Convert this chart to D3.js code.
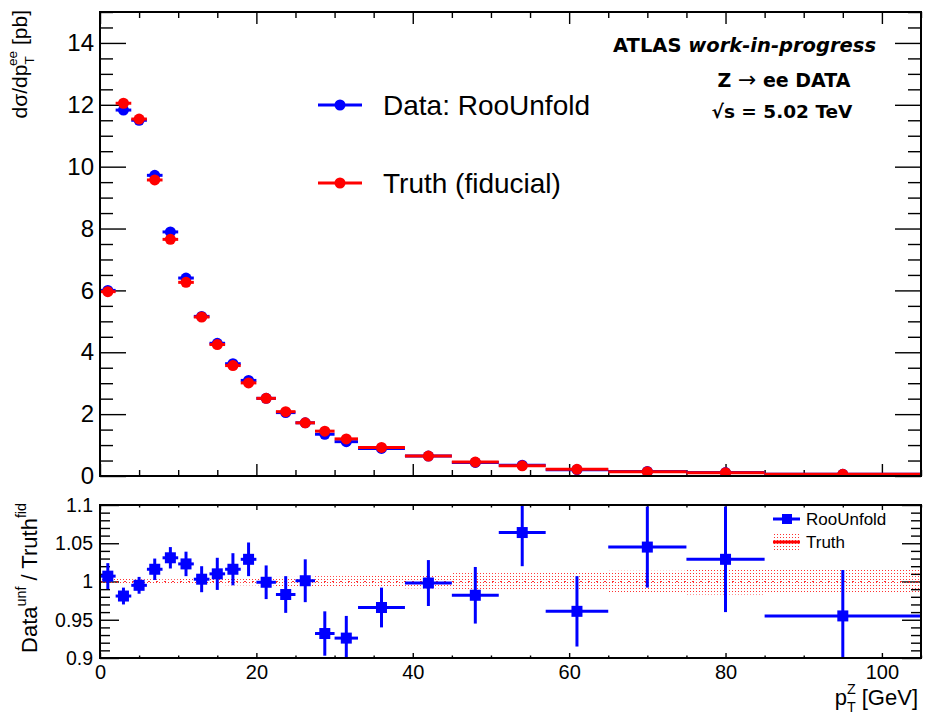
<!DOCTYPE html>
<html>
<head>
<meta charset="utf-8">
<script src="https://cdn.jsdelivr.net/npm/d3@7"></script>
<style>
  html, body { margin: 0; padding: 0; background: #fff; }
  svg { display: block; font-family: "Liberation Sans", Arial, Helvetica, sans-serif; }
</style>
</head>
<body>
<svg id="chart" width="925" height="715"></svg>
<script>
// Bin edges of the Z pT distribution [GeV]
const binEdges = [0, 2, 4, 6, 8, 10, 12, 14, 16, 18, 20, 22.5, 25, 27.5, 30, 33, 39, 45, 51, 57, 65, 75, 85, 105];

// Unfolded data cross section per bin [pb/GeV]
const dataXsec = [6.00, 11.83, 11.50, 9.72, 7.89, 6.40, 5.16, 4.29, 3.63, 3.09, 2.51, 2.05, 1.72, 1.35, 1.11, 0.89, 0.645, 0.44, 0.35, 0.205, 0.146, 0.11, 0.053];

// Fiducial truth cross section per bin [pb/GeV]
const truthXsec = [5.96, 12.05, 11.54, 9.57, 7.65, 6.26, 5.14, 4.25, 3.57, 3.01, 2.51, 2.08, 1.72, 1.45, 1.20, 0.925, 0.645, 0.45, 0.33, 0.215, 0.14, 0.107, 0.055];

// Ratio unfolded data / truth, with its uncertainty
const ratioVals = [1.007, 0.981, 0.995, 1.016, 1.031, 1.023, 1.003, 1.010, 1.016, 1.029, 0.999, 0.983, 1.001, 0.932, 0.926, 0.966, 0.998, 0.982, 1.064, 0.961, 1.045, 1.029, 0.955];
const ratioErrs = [0.017, 0.011, 0.011, 0.014, 0.014, 0.016, 0.017, 0.021, 0.021, 0.022, 0.022, 0.024, 0.028, 0.029, 0.029, 0.026, 0.030, 0.037, 0.044, 0.046, 0.053, 0.069, 0.060];

// Relative statistical uncertainty of the truth prediction (band around 1)
const truthBand = [0.004, 0.004, 0.003, 0.003, 0.003, 0.004, 0.004, 0.004, 0.005, 0.005, 0.005, 0.006, 0.006, 0.007, 0.007, 0.008, 0.009, 0.011, 0.011, 0.012, 0.014, 0.017, 0.015];

// Axis tick values
const topYMajor = [0, 2, 4, 6, 8, 10, 12, 14];
const ratioYMajor = [0.9, 0.95, 1, 1.05, 1.1];
const ratioYLabels = ["0.9", "0.95", "1", "1.05", "1.1"];
const xMajor = [0, 20, 40, 60, 80, 100];

const bins = binEdges.slice(0, -1).map((lo, i) => ({
  lo, hi: binEdges[i + 1], mid: (lo + binEdges[i + 1]) / 2,
  data: dataXsec[i], truth: truthXsec[i],
  ratio: ratioVals[i], err: ratioErrs[i], band: truthBand[i]
}));

const svg = d3.select("#chart");
const X0 = 100, X1 = 921;
const x = d3.scaleLinear().domain([0, 105]).range([X0, X1]);
const yT = d3.scaleLinear().domain([0, 15]).range([476, 12]);
const yR = d3.scaleLinear().domain([0.9, 1.1]).range([658, 505]);

const defs = svg.append("defs");
const pat = defs.append("pattern").attr("id", "stipple")
  .attr("width", 3).attr("height", 3).attr("patternUnits", "userSpaceOnUse");
pat.append("rect").attr("x", 0).attr("y", 0).attr("width", 1).attr("height", 1).attr("fill", "#ff3030");
defs.append("clipPath").attr("id", "clipR").append("rect")
  .attr("x", X0).attr("y", yR(1.1)).attr("width", X1 - X0).attr("height", yR(0.9) - yR(1.1));
defs.append("clipPath").attr("id", "clipT").append("rect")
  .attr("x", X0).attr("y", yT(15)).attr("width", X1 - X0).attr("height", yT(0) - yT(15));

// Text with stacked sub/superscripts, ROOT-style
function richText(sel, size, pieces, scale = 0.65) {
  const t = sel.append("text").attr("font-size", size);
  let shift = 0, lastW = 0;
  pieces.forEach(p => {
    const ts = t.append("tspan").text(p.t);
    const target = p.sub ? size * 0.32 : p.sup ? -size * 0.48 : 0;
    ts.attr("dy", target - shift);
    shift = target;
    if (p.sub || p.sup) ts.attr("font-size", size * scale);
    if (p.stack) ts.attr("dx", -lastW);
    lastW = ts.node().getComputedTextLength();
  });
  return t;
}

// Inward ticks on one side of a frame
function ticks(axisFn, scale, values, size, tx, ty) {
  const g = svg.append("g").attr("transform", `translate(${tx},${ty})`)
    .call(axisFn(scale).tickValues(values).tickSize(-size).tickFormat(""));
  g.select(".domain").remove();
  g.selectAll(".tick line").attr("stroke", "#000").attr("stroke-width", 1.4);
}
function labels(axisFn, scale, values, fmt, size, pad, tx, ty) {
  const g = svg.append("g").attr("transform", `translate(${tx},${ty})`)
    .call(axisFn(scale).tickValues(values).tickSize(0).tickPadding(pad).tickFormat(fmt));
  g.select(".domain").remove();
  g.selectAll("text").attr("font-size", size).attr("fill", "#000")
    .attr("font-family", "Liberation Sans, Arial, sans-serif");
}
const range = (a, b, s) => d3.range(Math.round((b - a) / s) + 1).map(i => +(a + i * s).toFixed(4));

/* ---------------- upper panel: cross section ---------------- */
const topMinor = range(0, 15, 0.5).filter(v => !topYMajor.includes(v));
const xMinor = range(0, 105, 5).filter(v => !xMajor.includes(v));
ticks(d3.axisLeft, yT, topYMajor, 26, X0, 0);
ticks(d3.axisLeft, yT, topMinor, 13, X0, 0);
ticks(d3.axisRight, yT, topYMajor, 26, X1, 0);
ticks(d3.axisRight, yT, topMinor, 13, X1, 0);
ticks(d3.axisBottom, x, xMajor, 12, 0, yT(0));
ticks(d3.axisBottom, x, xMinor, 6, 0, yT(0));
ticks(d3.axisTop, x, xMajor, 12, 0, yT(15));
ticks(d3.axisTop, x, xMinor, 6, 0, yT(15));
labels(d3.axisLeft, yT, topYMajor, d3.format("d"), 24, 6, X0, 0);

const gTop = svg.append("g").attr("clip-path", "url(#clipT)");
// data (blue) first, truth (red) drawn on top
gTop.selectAll(".dbar").data(bins).join("line")
  .attr("x1", d => x(d.lo)).attr("x2", d => x(d.hi))
  .attr("y1", d => yT(d.data)).attr("y2", d => yT(d.data))
  .attr("stroke", "#0000ff").attr("stroke-width", 3);
gTop.selectAll(".dpt").data(bins).join("circle")
  .attr("cx", d => x(d.mid)).attr("cy", d => yT(d.data)).attr("r", 5.5)
  .attr("fill", "#0000ff");
gTop.selectAll(".tbar").data(bins).join("line")
  .attr("x1", d => x(d.lo)).attr("x2", d => x(d.hi))
  .attr("y1", d => yT(d.truth)).attr("y2", d => yT(d.truth))
  .attr("stroke", "#ff0000").attr("stroke-width", 3);
gTop.selectAll(".tpt").data(bins).join("circle")
  .attr("cx", d => x(d.mid)).attr("cy", d => yT(d.truth)).attr("r", 5.5)
  .attr("fill", "#ff0000");

svg.append("rect").attr("x", X0).attr("y", yT(15)).attr("width", X1 - X0).attr("height", yT(0) - yT(15))
  .attr("fill", "none").attr("stroke", "#000").attr("stroke-width", 2);

// legend
const legTop = [
  { label: "Data: RooUnfold", color: "#0000ff", y: 105 },
  { label: "Truth (fiducial)", color: "#ff0000", y: 183 }
];
legTop.forEach(l => {
  svg.append("line").attr("x1", 318).attr("x2", 362).attr("y1", l.y).attr("y2", l.y)
    .attr("stroke", l.color).attr("stroke-width", 3);
  svg.append("circle").attr("cx", 340).attr("cy", l.y).attr("r", 5.5).attr("fill", l.color);
  svg.append("text").attr("x", 383).attr("y", l.y + 10).attr("font-size", 28).text(l.label);
});

// experiment label
const atl = svg.append("text").attr("x", 876).attr("y", 52).attr("text-anchor", "end")
  .attr("font-family", "DejaVu Sans, sans-serif").attr("font-weight", "bold").attr("font-size", 19.5);
atl.append("tspan").text("ATLAS ");
atl.append("tspan").attr("font-style", "italic").text("work-in-progress");
const zl = svg.append("text").attr("x", 784).attr("y", 87).attr("text-anchor", "middle")
  .attr("font-family", "DejaVu Sans, sans-serif").attr("font-weight", "bold").attr("font-size", 19);
zl.append("tspan").text("Z ");
zl.append("tspan").attr("font-weight", "normal").attr("font-size", 22).text("\u2192");
zl.append("tspan").text(" ee DATA");
svg.append("text").attr("x", 782).attr("y", 118).attr("text-anchor", "middle")
  .attr("font-family", "DejaVu Sans, sans-serif").attr("font-weight", "bold").attr("font-size", 18.5)
  .text("\u221As = 5.02 TeV");

// y title
const yt = richText(svg, 21, [
  { t: "d\u03C3/dp" }, { t: "T", sub: true }, { t: "ee", sup: true, stack: true }, { t: " [pb]" }
]);
yt.attr("text-anchor", "end").attr("transform", "translate(27,10) rotate(-90)");

/* ---------------- lower panel: ratio ---------------- */
const rMinor = range(0.9, 1.1, 0.01).filter(v => !ratioYMajor.some(m => Math.abs(m - v) < 1e-6));
ticks(d3.axisLeft, yR, ratioYMajor, 19, X0, 0);
ticks(d3.axisLeft, yR, rMinor, 10, X0, 0);
ticks(d3.axisRight, yR, ratioYMajor, 19, X1, 0);
ticks(d3.axisRight, yR, rMinor, 10, X1, 0);
ticks(d3.axisBottom, x, xMajor, 5, 0, yR(0.9));
ticks(d3.axisBottom, x, xMinor, 2.5, 0, yR(0.9));
ticks(d3.axisTop, x, xMajor, 5, 0, yR(1.1));
ticks(d3.axisTop, x, xMinor, 2.5, 0, yR(1.1));
labels(d3.axisLeft, yR, ratioYMajor, (d, i) => ratioYLabels[i], 19.5, 7, X0, 0);
labels(d3.axisBottom, x, xMajor, d3.format("d"), 20, 7, 0, yR(0.9));

const gR = svg.append("g").attr("clip-path", "url(#clipR)");
gR.selectAll(".band").data(bins).join("rect")
  .attr("x", d => x(d.lo)).attr("width", d => x(d.hi) - x(d.lo))
  .attr("y", d => yR(1 + d.band)).attr("height", d => yR(1 - d.band) - yR(1 + d.band))
  .attr("fill", "url(#stipple)");
gR.append("line").attr("x1", x(0)).attr("x2", x(105)).attr("y1", yR(1)).attr("y2", yR(1))
  .attr("stroke", "#ff0000").attr("stroke-width", 1).attr("stroke-dasharray", "2,6").attr("opacity", 0.8);
gR.selectAll(".rh").data(bins).join("line")
  .attr("x1", d => x(d.lo)).attr("x2", d => x(d.hi))
  .attr("y1", d => yR(d.ratio)).attr("y2", d => yR(d.ratio))
  .attr("stroke", "#0000ff").attr("stroke-width", 3);
gR.selectAll(".rv").data(bins).join("line")
  .attr("x1", d => x(d.mid)).attr("x2", d => x(d.mid))
  .attr("y1", d => yR(d.ratio - d.err)).attr("y2", d => yR(d.ratio + d.err))
  .attr("stroke", "#0000ff").attr("stroke-width", 3);
gR.selectAll(".rp").data(bins).join("rect")
  .attr("x", d => x(d.mid) - 5.5).attr("y", d => yR(d.ratio) - 5.5)
  .attr("width", 11).attr("height", 11).attr("fill", "#0000ff");

svg.append("rect").attr("x", X0).attr("y", yR(1.1)).attr("width", X1 - X0).attr("height", yR(0.9) - yR(1.1))
  .attr("fill", "none").attr("stroke", "#000").attr("stroke-width", 2);

// ratio legend
svg.append("line").attr("x1", 773).attr("x2", 800).attr("y1", 519).attr("y2", 519)
  .attr("stroke", "#0000ff").attr("stroke-width", 3);
svg.append("rect").attr("x", 782).attr("y", 514).attr("width", 10).attr("height", 10).attr("fill", "#0000ff");
svg.append("text").attr("x", 806).attr("y", 525).attr("font-size", 17).text("RooUnfold");
svg.append("rect").attr("x", 773).attr("y", 533).attr("width", 27).attr("height", 18).attr("fill", "url(#stipple)");
svg.append("line").attr("x1", 773).attr("x2", 800).attr("y1", 542).attr("y2", 542)
  .attr("stroke", "#ff0000").attr("stroke-width", 3);
svg.append("text").attr("x", 806).attr("y", 548).attr("font-size", 17).text("Truth");

// ratio y title
const rt = richText(svg, 22, [
  { t: "Data" }, { t: "unf", sup: true }, { t: " / Truth" }, { t: "fid", sup: true }
]);
rt.attr("text-anchor", "end").attr("transform", "translate(37,503) rotate(-90)");

// x title
const xt = richText(svg, 22, [
  { t: "p" }, { t: "T", sub: true }, { t: "Z", sup: true, stack: true }, { t: " [GeV]" }
]);
xt.attr("text-anchor", "end").attr("transform", "translate(918,705)");
</script>
</body>
</html>
